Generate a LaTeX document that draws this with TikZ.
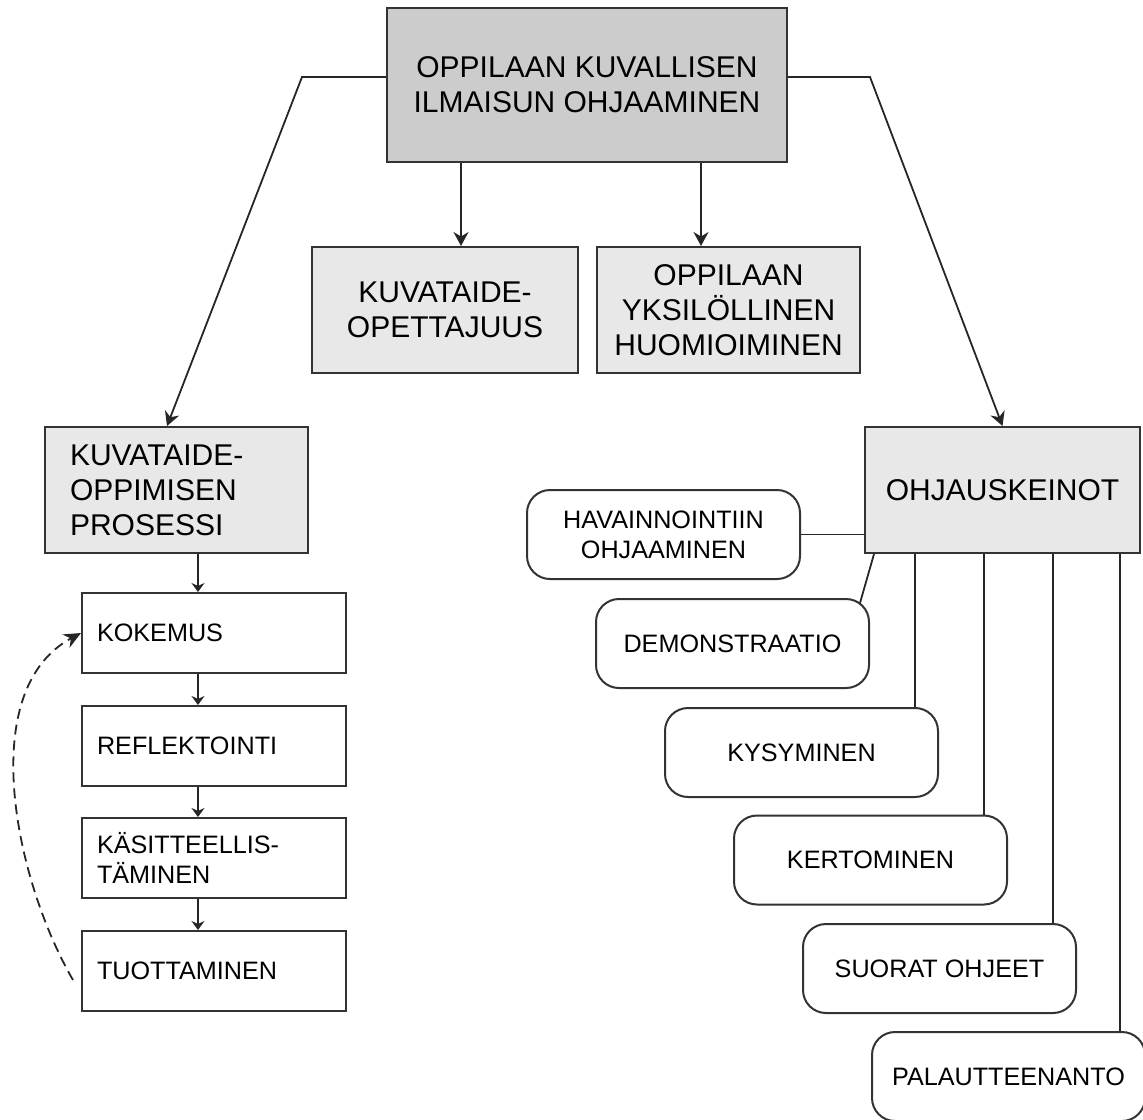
\documentclass[tikz,border=0pt]{standalone}
\usepackage{fontspec}
\setmainfont{Liberation Sans}
\usetikzlibrary{arrows.meta}

\begin{document}
\begin{tikzpicture}[x=0.5pt, y=-0.5pt,
    reuna/.style={draw=black!80, line width=1pt},
    harmaa/.style={reuna, fill=black!20, align=center, inner sep=0pt,
      font=\fontsize{15}{17.5}\selectfont},
    vaalea/.style={reuna, fill=black!9, align=center, inner sep=0pt,
      minimum height=63pt, font=\fontsize{15}{17.5}\selectfont},
    vaihe/.style={reuna, fill=white, text width=117pt, inner xsep=7.5pt,
      inner ysep=0pt, minimum height=40pt, align=left,
      font=\fontsize{12.6}{15}\selectfont},
    keino/.style={reuna, fill=white, rounded corners=11.5pt,
      minimum width=136.5pt, minimum height=44.5pt, inner sep=0pt,
      align=center, font=\fontsize{12.6}{15}\selectfont},
    viiva/.style={draw=black!85, line width=0.9pt},
    nuoli/.style={viiva, -{Stealth[length=7pt,width=7.5pt]}},
    lyhyt/.style={viiva, -{Stealth[length=4.5pt,width=6.5pt]}}]
    \useasboundingbox (0,0) rectangle (1143,1119);
    % paakasite
    \node[harmaa, minimum width=200pt, minimum height=77pt] (paa) at (587,85)
        {OPPILAAN KUVALLISEN\\ILMAISUN OHJAAMINEN};
    \node[vaalea, minimum width=133pt] (opet) at (445,310) {KUVATAIDE-\\OPETTAJUUS};
    \node[vaalea, minimum width=131.5pt] (yks) at (728.5,310)
        {OPPILAAN\\YKSILÖLLINEN\\HUOMIOIMINEN};
    \node[vaalea, minimum width=131.5pt, text width=106.5pt, inner xsep=12.5pt,
        align=left] (prosessi) at (176.5,490) {KUVATAIDE-\\OPPIMISEN\\PROSESSI};
    \node[vaalea, minimum width=137.5pt] (ohjaus) at (1002.5,490) {OHJAUSKEINOT};
    % prosessin vaiheet
    \node[vaihe] (kokemus) at (214,633) {KOKEMUS};
    \node[vaihe] (reflektointi) at (214,746) {REFLEKTOINTI};
    \node[vaihe] (kasitteellistaminen) at (214,858) {KÄSITTEELLIS-\\TÄMINEN};
    \node[vaihe] (tuottaminen) at (214,971) {TUOTTAMINEN};
    % ohjauskeinot
    \node[keino] (havainnointi) at (663.5,534.5) {HAVAINNOINTIIN\\OHJAAMINEN};
    \node[keino] (demonstraatio) at (732.5,643.5) {DEMONSTRAATIO};
    \node[keino] (kysyminen) at (801.5,752.5) {KYSYMINEN};
    \node[keino] (kertominen) at (870.5,860) {KERTOMINEN};
    \node[keino] (suorat) at (939.5,968.5) {SUORAT OHJEET};
    \node[keino] (palaute) at (1008.5,1076.5) {PALAUTTEENANTO};
    % nuolet ylhaalla
    \draw[nuoli] ([xshift=8pt]opet.north |- paa.south) -- ([xshift=8pt]opet.north);
    \draw[nuoli] ([xshift=-13.75pt]yks.north |- paa.south) -- ([xshift=-13.75pt]yks.north);
    \draw[nuoli] ([yshift=4pt]paa.west) -- ++(-42pt,0pt) -- ([xshift=-4.75pt]prosessi.north);
    \draw[nuoli] ([yshift=4pt]paa.east) -- ++(41pt,0pt) -- (ohjaus.north);
    % prosessi
    \draw[lyhyt] ([xshift=-8pt]kokemus.north |- prosessi.south) -- ([xshift=-8pt]kokemus.north);
    \draw[lyhyt] ([xshift=-8pt]kokemus.south) -- ([xshift=-8pt]reflektointi.north);
    \draw[lyhyt] ([xshift=-8pt]reflektointi.south) -- ([xshift=-8pt]kasitteellistaminen.north);
    \draw[lyhyt] ([xshift=-8pt]kasitteellistaminen.south) -- ([xshift=-8pt]tuottaminen.north);
    \coordinate (paluu) at (73,980);
    \draw[viiva, dash pattern=on 5pt off 3pt, -{Stealth[length=8.5pt,width=7.5pt]}]
        (paluu) .. controls (15,880) and (-25,690) .. (kokemus.west);
    % keinojen viivat
    \draw[viiva] (havainnointi.east) -- (havainnointi.east -| ohjaus.west);
    \draw[viiva] ([xshift=5pt]ohjaus.south west) -- ([shift={(-5pt,-2.5pt)}]demonstraatio.north east);
    \draw[viiva] ([xshift=-12pt]kysyminen.north east) -- ([xshift=-12pt]kysyminen.north east |- ohjaus.south);
    \draw[viiva] ([xshift=-12pt]kertominen.north east) -- ([xshift=-12pt]kertominen.north east |- ohjaus.south);
    \draw[viiva] ([xshift=-12pt]suorat.north east) -- ([xshift=-12pt]suorat.north east |- ohjaus.south);
    \draw[viiva] ([xshift=-13pt]palaute.north east) -- ([xshift=-13pt]palaute.north east |- ohjaus.south);
\end{tikzpicture}
\end{document}
